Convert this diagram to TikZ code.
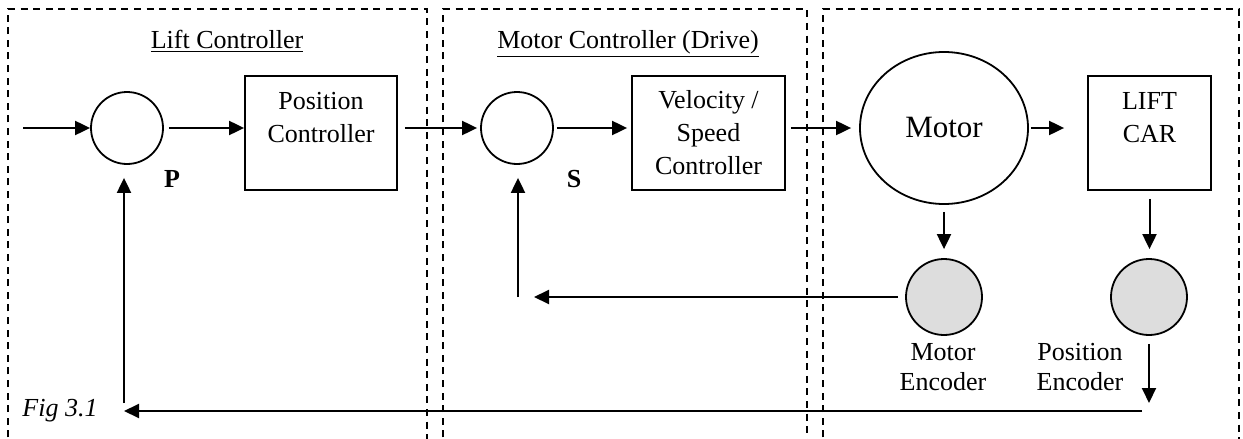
\documentclass[tikz,border=0pt]{standalone}
\usepackage{fontspec}
\setmainfont{Liberation Serif}
\usetikzlibrary{shapes.geometric, arrows.meta, positioning}
\definecolor{encgrey}{RGB}{221, 221, 221}

\begin{document}
\begin{tikzpicture}[
    x=0.5pt, y=-0.5pt,
    font=\fontsize{13}{16.5}\selectfont,
    zone/.style={draw, dash pattern=on 3.5pt off 2.8pt, line width=0.75pt},
    zonetitle/.style={anchor=base, inner sep=0pt},
    junction/.style={circle, draw, line width=0.9pt, minimum size=36pt, inner sep=0pt},
    block/.style={rectangle, draw, line width=0.9pt, align=center, minimum height=57pt, inner sep=0pt},
    blocktext/.style={align=center, inner sep=3pt},
    encoder/.style={circle, draw, fill=encgrey, line width=0.9pt, minimum size=38pt, inner sep=0pt},
    enclabel/.style={align=center, inner sep=1pt, font=\fontsize{13}{15}\selectfont},
    sumlabel/.style={font=\fontsize{13}{16}\selectfont\bfseries, inner sep=0pt},
    arrowline/.style={draw, line width=1pt, -{Triangle[length=7.5pt, width=7pt]}}
]
\useasboundingbox (0,0) rectangle (1243,439);

\path [zone] (8,450) |- (427,9) -- (427,450);
\path [zone] (443,450) |- (807,9) -- (807,450);
\path [zone] (823,450) |- (1239,9) -- (1239,450);

\node [zonetitle] (lifttitle) at (227,48) {\underline{Lift Controller}};
\node [zonetitle] (drivetitle) at (628,48) {\underline{Motor Controller (Drive)}};

\node [junction] (sumP) at (127,128) {};
\node [sumlabel] (plabel) at (172,179) {P};
\node [block, minimum width=76pt] (posctrl) at (321,133) {};
\node [blocktext, below=5.4pt of posctrl.north] (posctrltext) {Position\\Controller};
\node [junction] (sumS) at (517,128) {};
\node [sumlabel] (slabel) at (574,179) {S};
\node [block, minimum width=76.5pt] (velctrl) at (708.5,133) {Velocity /\\Speed\\Controller};
\node [ellipse, draw, line width=0.9pt, minimum width=84pt, minimum height=76pt, inner sep=0pt, font=\fontsize{15.5}{18}\selectfont] (motor) at (944,128) {Motor};
\node [block, minimum width=61.5pt] (liftcar) at (1149.5,133) {};
\node [blocktext, below=5.4pt of liftcar.north] (liftcartext) {LIFT\\CAR};
\node [encoder] (motorenc) at (944,297) {};
\node [encoder] (posenc) at (1149,297) {};
\node [enclabel] (motorenclabel) at (943,367) {Motor\\Encoder};
\node [enclabel] (posenclabel) at (1080,367) {Position\\Encoder};
\node [font=\fontsize{13}{16}\selectfont\itshape] (figlabel) at (60,411) {Fig 3.1};

\coordinate (ref) at (23,128);
\coordinate (mfbend) at (534,297);
\coordinate (sfb) at (518,297);
\coordinate (pedown) at (1149,403);
\coordinate (pfbstart) at (1142,411);
\coordinate (pfbend) at (124,411);
\coordinate (pfb) at (124,403);

\path [arrowline] (ref) -- (sumP.west);
\path [arrowline, shorten <=2.5pt] (sumP.east) -- (sumP.east -| posctrl.west);
\path [arrowline, shorten <=3.5pt, shorten >=1.5pt] (posctrl.east |- sumS) -- (sumS.west);
\path [arrowline, shorten <=1.5pt, shorten >=2pt] (sumS.east) -- (sumS.east -| velctrl.west);
\path [arrowline, shorten <=2.5pt, shorten >=4pt] (velctrl.east |- motor) -- (motor.west);
\path [arrowline, shorten <=1pt, shorten >=11.5pt] (motor.east) -- (motor.east -| liftcar.west);
\path [arrowline, shorten <=3.5pt, shorten >=4.5pt] (motor.south) -- (motorenc.north);
\path [arrowline, shorten <=4pt, shorten >=4.5pt] (liftcar.south) -- (liftcar.south |- posenc.north);
\path [arrowline, shorten <=3.5pt] (motorenc.west) -- (mfbend);
\path [arrowline, shorten >=6.5pt] (sfb) -- (sfb |- sumS.south);
\path [arrowline, shorten <=4pt] (posenc.south) -- (pedown);
\path [arrowline] (pfbstart) -- (pfbend);
\path [arrowline, shorten >=6.5pt] (pfb) -- (pfb |- sumP.south);

\end{tikzpicture}
\end{document}
